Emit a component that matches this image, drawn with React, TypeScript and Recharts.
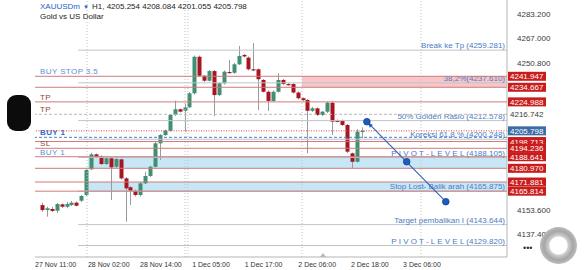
import React from 'react';
import { ComposedChart, Bar, XAxis, YAxis, ReferenceLine, ReferenceArea, ReferenceDot } from 'recharts';

const FONT = '"Liberation Sans", Arial, Helvetica, sans-serif';

// ---- Candles (H1 XAUUSDm) ----
const opens = [4156.6, 4153.3, 4154.0, 4152.9, 4157.1, 4155.5, 4156.6, 4158.2, 4159.5, 4163.3,
  4180.3, 4190.2, 4188.7, 4183.8, 4187.6, 4182.0, 4186.9, 4174.3, 4168.4, 4166.1,
  4163.3, 4171.0, 4175.9, 4182.0, 4197.5, 4203.0, 4205.9, 4216.3, 4220.1, 4219.1,
  4221.4, 4230.7, 4254.9, 4242.3, 4239.0, 4245.4, 4229.5, 4237.3, 4244.8, 4244.3,
  4249.9, 4256.1, 4254.3, 4246.6, 4246.6, 4239.5, 4231.7, 4225.6, 4231.7, 4239.5,
  4236.8, 4236.8, 4231.2, 4227.4, 4226.2, 4219.1, 4220.7, 4216.3, 4218.5, 4224.4,
  4212.5, 4212.5, 4209.7, 4190.9, 4185.3, 4205.254];
const highs = [4158.2, 4155.5, 4155.3, 4158.0, 4157.6, 4158.8, 4159.3, 4159.0, 4163.3, 4180.5,
  4191.3, 4190.8, 4189.5, 4188.1, 4188.1, 4187.8, 4187.5, 4175.2, 4169.2, 4166.9,
  4171.9, 4178.7, 4182.8, 4198.4, 4203.7, 4206.7, 4217.0, 4225.8, 4220.6, 4224.0,
  4231.5, 4255.7, 4255.7, 4242.8, 4246.1, 4246.1, 4238.2, 4245.8, 4252.7, 4250.8,
  4262.0, 4256.7, 4255.1, 4264.0, 4247.1, 4240.2, 4232.5, 4232.5, 4243.9, 4240.2,
  4237.5, 4237.5, 4231.9, 4227.9, 4226.9, 4221.6, 4221.3, 4218.9, 4225.2, 4225.2,
  4213.3, 4213.3, 4210.3, 4191.4, 4207.0, 4208.084];
const lows = [4152.2, 4148.9, 4152.0, 4151.3, 4154.7, 4154.5, 4156.0, 4155.7, 4158.6, 4162.6,
  4179.8, 4188.1, 4183.2, 4183.2, 4160.0, 4181.2, 4173.5, 4145.6, 4156.6, 4162.3,
  4162.3, 4170.6, 4175.2, 4181.5, 4186.5, 4202.4, 4205.4, 4215.6, 4218.0, 4205.2,
  4220.9, 4229.9, 4241.8, 4238.2, 4238.5, 4215.6, 4228.9, 4236.5, 4243.8, 4243.5,
  4249.4, 4254.4, 4245.8, 4245.4, 4219.6, 4231.2, 4218.9, 4224.9, 4231.2, 4236.2,
  4235.8, 4230.5, 4226.6, 4225.5, 4190.9, 4218.3, 4215.6, 4215.6, 4217.6, 4203.0,
  4211.7, 4209.0, 4191.1, 4181.0, 4184.8, 4201.055];
const closes = [4153.3, 4154.5, 4152.7, 4157.3, 4155.5, 4157.3, 4158.2, 4156.2, 4162.6, 4179.8,
  4190.2, 4188.7, 4183.8, 4187.6, 4181.6, 4187.1, 4174.3, 4167.7, 4166.1, 4163.3,
  4171.0, 4175.9, 4182.0, 4197.5, 4203.0, 4205.9, 4216.3, 4220.1, 4218.5, 4221.3,
  4230.7, 4254.9, 4242.3, 4239.0, 4245.4, 4229.5, 4237.3, 4245.0, 4244.3, 4249.9,
  4255.4, 4255.1, 4246.6, 4246.2, 4240.0, 4231.7, 4225.6, 4231.7, 4239.5, 4236.8,
  4236.6, 4231.2, 4227.4, 4226.2, 4219.1, 4220.7, 4216.3, 4218.5, 4224.4, 4211.9,
  4212.3, 4209.7, 4192.0, 4185.3, 4205.2, 4205.798];

// ---- Axes ----
const priceTicks = [4137.4, 4153.6, 4250.8, 4267.0, 4283.2];
const priceDomain = [4122.2, 4292.5];
const barDomain = [-1.5, 94.5];
const timeTickAt = [2.7, 13.5, 24.1, 34.3, 45.0, 55.9, 66.6, 77.2];
const timeLabels = ['27 Nov 11:00', '28 Nov 02:00', '28 Nov 14:00', '1 Dec 05:00', '1 Dec 17:00', '2 Dec 06:00', '2 Dec 18:00', '3 Dec 06:00'];
const daySeparators = [9.1, 29.0, 29.6, 52.8, 77.0];

// ---- Levels ----
const redLevels = [4241.947, 4234.667, 4224.988, 4198.713, 4194.236, 4188.641, 4180.970, 4171.881, 4165.814];
const bidPrice = 4205.798;
const alertPrice = 4216.742;
const buyLinePrice = 4201.5;
const orderTexts = ['BUY STOP 3.5', 'TP', 'TP', 'BUY 1', 'SL', 'BUY 1'];
const orderPrices = [4241.947, 4224.988, 4216.742, 4201.5, 4194.236, 4188.641];
const orderColors = ['#5a8fd2', '#8a4b3e', '#8a4b3e', '#2e6bd0', '#8a4b3e', '#5a8fd2'];
const fibStart = 7.3;
const fibPrices = [4259.281, 4237.610, 4212.578, 4200.248, 4188.105, 4165.875, 4143.644, 4129.820];
const fibTexts = ['Break ke Tp (4259.281)', '38,2%(4237.610)', '50% Golden Rasio (4212.578)', 'Koreksi 61,8 % (4200.248)',
  'P I V O T - L E V E L (4188.105)', 'Stop Lost- Balik arah (4165.875)', 'Target pembalikan I (4143.644)', 'P I V O T - L E V E L (4129.820)'];
const blueBands = [[4188.641, 4180.970], [4171.881, 4165.814]];
const blueBandStart = 9.3;
const pinkBand = [4241.947, 4234.667];
const pinkBandStart = 52.8;
const arrowBars = [66.0, 74.1, 82.05];
const arrowPrices = [4211.85, 4185.35, 4158.83];

const GREEN = '#3f8f72';
const RED = '#a8141f';
const WICK = '#9a9a9a';
const RED_LINE = '#cf7a7a';
const GRAY_LINE = '#bfc3c9';
const TEXT_BLUE = '#4a7cc4';

const candles = opens.map((o, i) => ({ i, open: o, high: highs[i], low: lows[i], close: closes[i], range: [lows[i], highs[i]] }));

function Candle(props: any) {
  const { x, y, width, height, payload } = props;
  if (!payload || payload.open == null) return null;
  const top = Math.min(y, y + height);
  const h = Math.abs(height);
  const { open, close, high, low } = payload;
  const span = high - low || 1;
  const toY = (v: number) => top + ((high - v) / span) * h;
  const up = close >= open;
  const cx = Math.round(x + width / 2) + 0.5;
  const bTop = toY(Math.max(open, close));
  const bBot = toY(Math.min(open, close));
  return (
    <g>
      <line x1={cx} x2={cx} y1={top} y2={top + h} stroke={WICK} strokeWidth={1} />
      <rect x={cx - 2} y={bTop} width={4} height={Math.max(bBot - bTop, 1.2)} fill={up ? GREEN : RED} />
    </g>
  );
}

function PriceTick(p: any) {
  return (
    <text x={p.x + 2} y={p.y + 3} fontSize={8} fill="#3a3a3a" fontFamily={FONT}>
      {Number(p.payload.value).toFixed(3)}
    </text>
  );
}

function TimeTick(p: any) {
  const idx = timeTickAt.indexOf(p.payload.value);
  return (
    <text x={p.x} y={p.y + 2} textAnchor="middle" fontSize={7} fill="#333" fontFamily={FONT}>
      {timeLabels[idx] ?? ''}
    </text>
  );
}

function RightTag(props: any) {
  const { viewBox, text, bg, color } = props;
  if (!viewBox) return null;
  const x = viewBox.x + viewBox.width + 1;
  const y = viewBox.y;
  return (
    <g>
      {bg ? <rect x={x} y={y - 4.5} width={38} height={9} fill={bg} /> : null}
      <text x={x + 2} y={y + 3} fontSize={8} fill={color} fontFamily={FONT}>{text}</text>
    </g>
  );
}

function LeftText(props: any) {
  const { viewBox, text, color, bold } = props;
  if (!viewBox) return null;
  return (
    <text x={viewBox.x + 5} y={viewBox.y - 2} fontSize={8} fill={color} fontWeight={bold ? 700 : 400} fontFamily={FONT} letterSpacing={0.4}>
      {text}
    </text>
  );
}

function FibText(props: any) {
  const { viewBox, text } = props;
  if (!viewBox) return null;
  return (
    <text x={viewBox.x + viewBox.width - 2} y={viewBox.y - 2} textAnchor="end" fontSize={8} fill={TEXT_BLUE} fontFamily={FONT}>
      {text}
    </text>
  );
}

function ArrowDot(props: any) {
  const { cx, cy } = props;
  if (cx == null) return null;
  return <circle cx={cx} cy={cy} r={3.3} fill="#1f5cc0" stroke="#123f8c" strokeWidth={0.8} />;
}

function ArrowHead(props: any) {
  const { cx, cy } = props;
  if (cx == null) return null;
  return <polygon points={`${cx + 1},${cy + 1} ${cx + 6},${cy + 3} ${cx + 3},${cy + 6}`} fill="#1f5cc0" />;
}

export default function App() {
  return (
    <div style={{ position: 'fixed', left: 0, top: 0, width: 586, height: 270, background: '#fff', overflow: 'hidden', fontFamily: FONT }}>
      <ComposedChart width={586} height={270} data={candles} margin={{ top: 0, right: 0, bottom: 0, left: 35 }}>
        <XAxis type="number" dataKey="i" domain={barDomain} allowDataOverflow ticks={timeTickAt} interval={0} height={13}
          tickLine={false} axisLine={{ stroke: '#b5b5b5' }} tick={<TimeTick />} />
        <YAxis orientation="right" type="number" domain={priceDomain} allowDataOverflow ticks={priceTicks} interval={0} width={79}
          tickLine={false} axisLine={{ stroke: '#b5b5b5' }} tick={<PriceTick />} />

        {blueBands.map((b, k) => (
          <ReferenceArea key={'bb' + k} x1={blueBandStart} x2={barDomain[1]} y1={b[1]} y2={b[0]} fill="#bde3f6" fillOpacity={0.85} stroke="none" ifOverflow="visible" />
        ))}
        <ReferenceArea x1={pinkBandStart} x2={barDomain[1]} y1={pinkBand[1]} y2={pinkBand[0]} fill="#f6bcc0" fillOpacity={0.85} stroke="none" ifOverflow="visible" />

        {daySeparators.map((d, k) => (
          <ReferenceLine key={'ds' + k} x={d} stroke="#c4c4c4" strokeDasharray="1 2" />
        ))}

        {fibPrices.map((p, k) => (
          <ReferenceLine key={'fib' + k} segment={[{ x: fibStart, y: p }, { x: barDomain[1], y: p }]} stroke={GRAY_LINE} strokeWidth={1}
            label={<FibText text={fibTexts[k]} />} />
        ))}

        {redLevels.map((p, k) => (
          <ReferenceLine key={'rl' + k} y={p} stroke={RED_LINE} strokeWidth={1}
            label={<RightTag text={p.toFixed(3)} bg="#c91c1c" color="#fff" />} />
        ))}

        <ReferenceLine y={alertPrice} stroke="#b9b9b9" strokeDasharray="3 2"
          label={<RightTag text={alertPrice.toFixed(3)} color="#3a3a3a" />} />
        <ReferenceLine y={buyLinePrice} stroke="#4a7fd0" strokeDasharray="3 2" />

        {orderPrices.map((p, k) => (
          <ReferenceLine key={'ol' + k} y={p} stroke="none"
            label={<LeftText text={orderTexts[k]} color={orderColors[k]} bold={k === 3} />} />
        ))}

        <Bar dataKey="range" barSize={4} shape={<Candle />} isAnimationActive={false} />

        <ReferenceLine y={bidPrice} stroke="#d44a4a" strokeDasharray="1 1.5"
          label={<RightTag text={bidPrice.toFixed(3)} bg="#3c6da6" color="#fff" />} />

        <ReferenceLine segment={[{ x: arrowBars[0], y: arrowPrices[0] }, { x: arrowBars[2], y: arrowPrices[2] }]} stroke="#2d62b8" strokeWidth={1.1} />
        <ReferenceDot x={arrowBars[0]} y={arrowPrices[0]} shape={<ArrowHead />} />
        {arrowBars.map((b, k) => (
          <ReferenceDot key={'ad' + k} x={b} y={arrowPrices[k]} shape={<ArrowDot />} />
        ))}
      </ComposedChart>

      <div style={{ position: 'absolute', left: 40, top: 2, fontSize: 8, lineHeight: '10px', color: '#222', whiteSpace: 'nowrap' }}>
        <span style={{ color: '#1f5fc4' }}>XAUUSDm</span>
        <span style={{ color: '#1f5fc4', fontSize: 6, margin: '0 3px' }}>▼</span>
        <span>H1, 4205.254 4208.084 4201.055 4205.798</span>
      </div>
      <div style={{ position: 'absolute', left: 40, top: 12, fontSize: 8, lineHeight: '10px', color: '#222', whiteSpace: 'nowrap' }}>Gold vs US Dollar</div>

      <div style={{ position: 'absolute', left: 7, top: 95, width: 24, height: 36, borderRadius: 9, background: '#0c0c0c' }} />
      <div style={{ position: 'absolute', left: 540, top: 227, width: 37, height: 37, borderRadius: '50%',
        background: 'radial-gradient(closest-side, #ffffff 0%, #ffffff 46%, #d0d0d0 52%, #a6a6a6 78%, #bcbcbc 100%)' }} />
      <div style={{ position: 'absolute', left: 523, top: 243, fontSize: 9, color: '#333', letterSpacing: 0 }}>•••</div>
      <div style={{ position: 'absolute', left: 320, top: 253, width: 0, height: 0, borderLeft: '3px solid transparent', borderRight: '3px solid transparent', borderBottom: '4px solid #b8b8b8' }} />
    </div>
  );
}
